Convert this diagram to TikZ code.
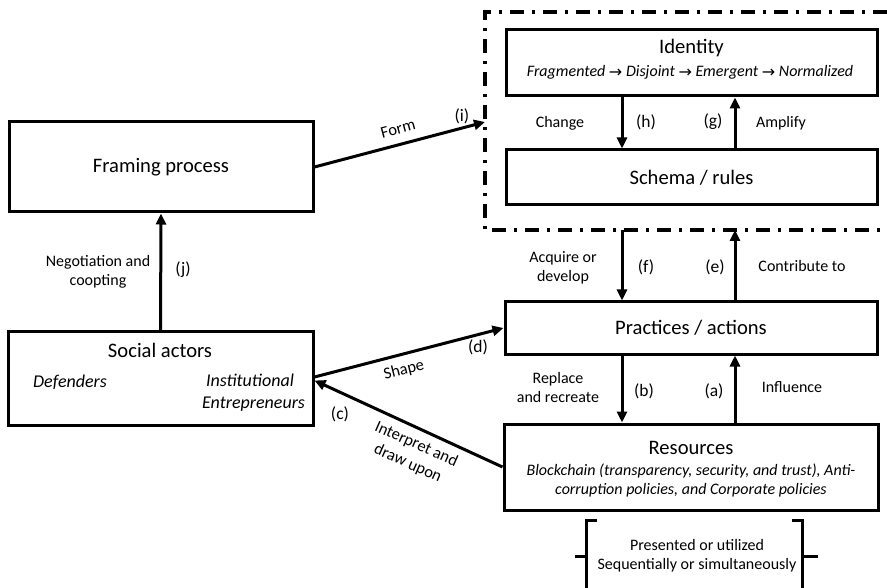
\documentclass[tikz,border=0pt]{standalone}
\usepackage{fontspec}
\setmainfont{Carlito}
\newfontfamily\arrfont{DejaVu Sans}
\usetikzlibrary{arrows.meta}
\newcommand{\fsz}[2]{\fontsize{#1}{#2}\selectfont}
\newcommand{\ra}{{\upshape\arrfont\fsz{16}{16}\raisebox{-1pt}{→}}}
\tikzset{
  box/.style={draw, line width=3pt, rectangle, inner sep=0pt},
  arr/.style={line width=3pt, -{Triangle[length=11pt,width=10pt]}},
  ttl/.style={font=\fsz{20.6}{24}},
  lbl/.style={font=\fsz{16}{19}, align=center, inner sep=0pt},
  tag/.style={font=\fsz{17.5}{20}, inner sep=0pt},
  slant/.style={font=\fsz{16.5}{20.8}, align=center, inner sep=0pt},
  dashdot/.style={line width=4pt, dash pattern=on 14pt off 8pt on 3pt off 8pt}
}
\begin{document}
\begin{tikzpicture}[x=1pt,y=-1pt]
\useasboundingbox (0,0) rectangle (887,588);
% dashed-dotted group frame
\draw[dashdot] (887,12) -- (485,12) -- (485,230) -- (887,230);
\coordinate (gleft) at (485,122);
\coordinate (gbot) at (0,230);
\coordinate (xh) at (622,0);
\coordinate (xg) at (735,0);
% boxes
\node[box, minimum width=371pt, minimum height=66pt] (identity) at (691.5,63) {};
\node[ttl] (idt) at (691.5,48) {Identity};
\node[font=\fsz{16}{19}\itshape, inner sep=0pt] (idsub) at (690,72) {Fragmented \ra{} Disjoint \ra{} Emergent \ra{} Normalized};
\node[box, minimum width=371pt, minimum height=55pt, ttl] (schema) at (691.5,177.5) {Schema / rules};
\node[box, minimum width=304pt, minimum height=90pt, ttl] (framing) at (161,167) {Framing process};
\node[box, minimum width=305pt, minimum height=93pt] (social) at (160.5,378.5) {};
\node[ttl] (sat) at (160,350) {Social actors};
\node[font=\fsz{18}{22}\itshape, inner sep=0pt] (def) at (70,382) {Defenders};
\node[font=\fsz{18}{22}\itshape, inner sep=0pt, align=center] (inst) at (252,393) {\hspace*{-4pt}Institutional\\\hspace*{3pt}Entrepreneurs};
\node[box, minimum width=372pt, minimum height=52pt, ttl] (practices) at (691,328) {Practices / actions};
\node[box, minimum width=374pt, minimum height=86pt] (resources) at (691,467) {};
\node[ttl] (rest) at (691,448) {Resources};
\node[font=\fsz{16}{18.7}\itshape, align=center, inner sep=0pt] (ressub) at (691,480.5) {Blockchain (transparency, security, and trust), Anti-\\corruption policies, and Corporate policies};
% connectors inside group
\draw[arr] (identity.south -| xh) -- (schema.north -| xh);
\draw[arr] (schema.north -| xg) -- (identity.south -| xg);
\draw[arr] (gbot -| xh) -- (practices.north -| xh);
\draw[arr] (practices.north -| xg) -- (gbot -| xg);
\draw[arr] (practices.south -| xh) -- (resources.north -| xh);
\draw[arr] (resources.north -| xg) -- (practices.south -| xg);
\draw[arr] (framing.east) -- (gleft);
\draw[arr] (social.north) -- (framing.south);
\draw[arr] ([yshift=1.5pt]social.east) -- (practices.west);
\draw[arr] (resources.west) -- ([yshift=-2pt]social.east);
% labels
\node[lbl] (lchange) at (560,123) {Change};
\node[tag] (lh) at (646,122) {(h)};
\node[tag] (lg) at (713,122) {(g)};
\node[lbl] (lamp) at (781,123) {Amplify};
\node[lbl] (lacq) at (563,267.5) {Acquire or\\develop};
\node[tag] (lf) at (646,267) {(f)};
\node[tag] (le) at (715,267) {(e)};
\node[lbl] (lcon) at (802,266) {Contribute to};
\node[lbl] (lrep) at (558,387.5) {Replace\\and recreate};
\node[tag] (lb) at (644,391) {(b)};
\node[tag] (la) at (714,391) {(a)};
\node[lbl] (linf) at (792,387) {Influence};
\node[lbl] (lneg) at (98,272) {Negotiation and\\coopting};
\node[tag] (lj) at (183,270) {(j)};
\node[slant, rotate=15] (lform) at (398,129) {Form};
\node[tag] (li) at (462,116) {(i)};
\node[slant, rotate=14] (lshape) at (404,370) {Shape};
\node[tag] (ld) at (478,347) {(d)};
\node[tag] (lc) at (340,414) {(c)};
\node[slant, rotate=-24] (linter) at (412,454) {Interpret and\\draw upon};
% bracket note
\draw[line width=3pt] (597,520) -- (586,520) -- (586,600);
\draw[line width=3pt] (586,556) -- (575,556);
\draw[line width=3pt] (792,520) -- (802,520) -- (802,600);
\draw[line width=3pt] (802,556) -- (818,556);
\node[lbl] (lpres) at (697,555.5) {Presented or utilized\\Sequentially or simultaneously};
\end{tikzpicture}
\end{document}
